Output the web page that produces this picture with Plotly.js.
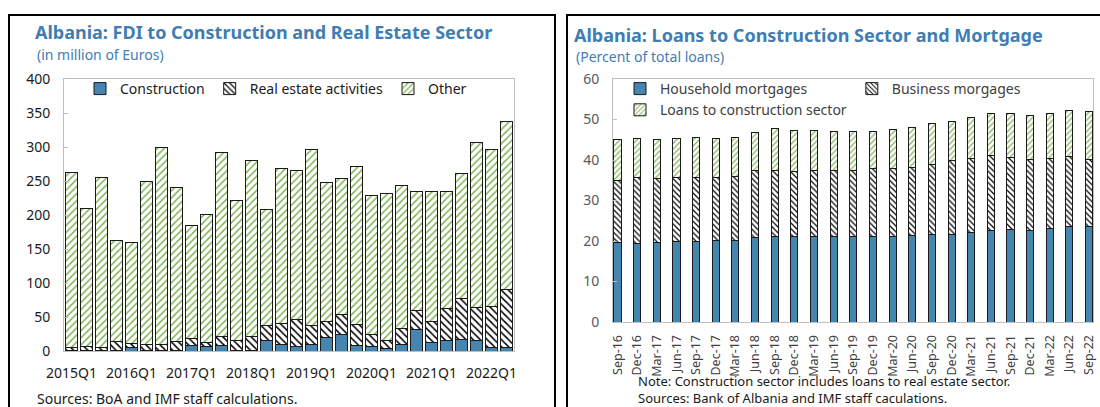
<!DOCTYPE html>
<html>
<head>
<meta charset="utf-8">
<script src="https://cdn.plot.ly/plotly-3.0.1.min.js"></script>
<style>
  html, body { margin: 0; padding: 0; width: 1100px; height: 407px; overflow: hidden; background: #fff; }
  #fdi-chart { position: absolute; left: 0; top: 0; width: 560px; height: 407px; }
  #loans-chart { position: absolute; left: 560px; top: 0; width: 540px; height: 407px; }
  .frame { position: absolute; border: 2px solid #000; pointer-events: none; }
  #fdi-frame { left: 8px; top: 14px; width: 544px; height: 420px; }
  #loans-frame { left: 566px; top: 14px; width: 560px; height: 420px; }
</style>
</head>
<body>
<div id="fdi-chart"></div>
<div id="loans-chart"></div>
<div class="frame" id="fdi-frame"></div>
<div class="frame" id="loans-frame"></div>
<script>
// FDI by quarter, million euros
const quarters = ['2015Q1','2015Q2','2015Q3','2015Q4','2016Q1','2016Q2','2016Q3','2016Q4',
  '2017Q1','2017Q2','2017Q3','2017Q4','2018Q1','2018Q2','2018Q3','2018Q4',
  '2019Q1','2019Q2','2019Q3','2019Q4','2020Q1','2020Q2','2020Q3','2020Q4',
  '2021Q1','2021Q2','2021Q3','2021Q4','2022Q1','2022Q2'];
const quarterTicks = ['2015Q1','2016Q1','2017Q1','2018Q1','2019Q1','2020Q1','2021Q1','2022Q1'];
const fdiConstruction = [1,1,1,1,5,1,1,1,8,7,8,1,1,16,10,7,10,20,25,8,6,3,10,32,13,15,17,15,5,5];
const fdiRealEstate = [4,5,4,13,6,9,8,13,11,5,13,15,21,22,31,39,27,24,29,31,19,12,23,28,30,48,60,49,60,85];
const fdiOther = [258,203,250,149,148,239,290,226,165,189,271,206,258,170,227,219,260,204,200,233,204,216,210,174,191,172,184,242,232,247];

// loans, percent of total loans
const months = ['Sep-16','Dec-16','Mar-17','Jun-17','Sep-17','Dec-17','Mar-18','Jun-18','Sep-18','Dec-18',
  'Mar-19','Jun-19','Sep-19','Dec-19','Mar-20','Jun-20','Sep-20','Dec-20','Mar-21','Jun-21',
  'Sep-21','Dec-21','Mar-22','Jun-22','Sep-22'];
const householdMortgages = [19.6,19.4,19.7,19.8,19.8,20.1,20.2,20.9,21.2,21.2,21.1,21.1,21.1,21.2,21.1,21.3,21.6,21.6,22.0,22.7,22.9,22.7,23.1,23.5,23.5];
const businessMortgages = [15.3,16.2,15.8,16.0,15.9,15.6,15.8,16.5,16.3,16.0,16.2,16.4,16.4,16.6,16.9,16.9,17.3,18.4,18.4,18.3,17.8,17.5,17.3,17.3,16.7];
const constructionLoans = [10.2,9.8,9.6,9.5,9.8,9.5,9.5,9.3,10.2,10.0,10.0,9.5,9.6,9.2,9.5,9.9,10.0,9.4,10.0,10.4,10.7,10.9,11.2,11.5,11.7];

const FONT = '"Noto Sans", "Open Sans", sans-serif';
const TITLE_BLUE = '#3f7db3';
const BAR_BLUE = '#4585b0';
const HATCH_GREEN = '#7fb356';
const outline = {color: '#1a1a1a', width: 1};

function stackTraces(x, series, names, size) {
  return [
    {type: 'bar', name: names[0], x: x, y: series[0],
      marker: {color: BAR_BLUE, line: outline}},
    {type: 'bar', name: names[1], x: x, y: series[1],
      marker: {color: '#fff', line: outline,
        pattern: {shape: '\\', fgcolor: '#000', bgcolor: '#fff', size: size, solidity: 0.3}}},
    {type: 'bar', name: names[2], x: x, y: series[2],
      marker: {color: '#fff', line: outline,
        pattern: {shape: '/', fgcolor: HATCH_GREEN, bgcolor: '#fff', size: size, solidity: 0.3}}}
  ];
}

const fdiTraces = stackTraces(quarters, [fdiConstruction, fdiRealEstate, fdiOther],
  ['Construction', 'Real estate activities', 'Other'], 5);

const fdiLayout = {
  width: 560, height: 407,
  margin: {l: 64, r: 46, t: 79, b: 56},
  barmode: 'stack', bargap: 0.15,
  paper_bgcolor: '#fff', plot_bgcolor: '#fff',
  font: {family: FONT, size: 14, color: '#1a1a1a'},
  showlegend: true,
  title: {text: '<b>Albania: FDI to Construction and Real Estate Sector</b>',
    xref: 'container', yref: 'container', x: 35 / 560, y: 1 - 33 / 407,
    xanchor: 'left', yanchor: 'middle', font: {size: 18, color: TITLE_BLUE}},
  xaxis: {type: 'category', tickvals: quarterTicks, ticktext: quarterTicks,
    showline: true, mirror: true, linecolor: '#bfbfbf', linewidth: 1,
    ticks: '', showgrid: false, zeroline: false, ticklabelstandoff: 9},
  yaxis: {range: [0, 400], dtick: 50, ticks: 'inside', ticklen: 4, tickcolor: '#bfbfbf',
    showline: true, mirror: true, linecolor: '#bfbfbf', linewidth: 1,
    showgrid: false, zeroline: false, ticklabelstandoff: 10},
  legend: {orientation: 'h', x: (80 - 64) / 450, xanchor: 'left', y: 1 + 6 / 272, yanchor: 'top',
    traceorder: 'normal', bgcolor: 'rgba(0,0,0,0)', font: {size: 14}},
  annotations: [
    {text: '(in million of Euros)', xref: 'paper', yref: 'paper',
      x: (35 - 64) / 450, y: (351 - 54) / 272, xanchor: 'left', yanchor: 'middle',
      showarrow: false, font: {size: 14, color: TITLE_BLUE}},
    {text: 'Sources: BoA and IMF staff calculations.', xref: 'paper', yref: 'paper',
      x: (35 - 64) / 450, y: (351 - 398) / 272, xanchor: 'left', yanchor: 'middle',
      showarrow: false, font: {size: 14, color: '#1a1a1a'}}
  ]
};

const loanTraces = stackTraces(months, [householdMortgages, businessMortgages, constructionLoans],
  ['Household mortgages', 'Business morgages', 'Loans to construction sector'], 4);

const loansLayout = {
  width: 540, height: 407,
  margin: {l: 53, r: 7, t: 79, b: 85},
  barmode: 'stack', bargap: 0.64,
  paper_bgcolor: '#fff', plot_bgcolor: '#fff',
  font: {family: FONT, size: 14, color: '#404040'},
  showlegend: true,
  title: {text: '<b>Albania: Loans to Construction Sector and Mortgage</b>',
    xref: 'container', yref: 'container', x: 14 / 540, y: 1 - 36 / 407,
    xanchor: 'left', yanchor: 'middle', font: {size: 18, color: TITLE_BLUE}},
  xaxis: {type: 'category', range: [-0.23, 24.2], tickangle: -90,
    showline: true, mirror: true, linecolor: '#bfbfbf', linewidth: 1,
    ticks: '', showgrid: false, zeroline: false, ticklabelstandoff: 7,
    tickfont: {size: 12.5, color: '#404040'}},
  yaxis: {range: [0, 60], dtick: 10, ticks: 'inside', ticklen: 4, tickcolor: '#bfbfbf',
    showline: true, mirror: true, linecolor: '#bfbfbf', linewidth: 1,
    showgrid: false, zeroline: false, ticklabelstandoff: 10,
    tickfont: {size: 14, color: '#595959'}},
  legend: {orientation: 'h', x: (620 - 613) / 480, xanchor: 'left', y: 1 + 6 / 243, yanchor: 'top',
    traceorder: 'normal', bgcolor: 'rgba(0,0,0,0)', font: {size: 14, color: '#404040'}},
  annotations: [
    {text: '(Percent of total loans)', xref: 'paper', yref: 'paper',
      x: (574 - 613) / 480, y: (322 - 56) / 243, xanchor: 'left', yanchor: 'middle',
      showarrow: false, font: {size: 14, color: TITLE_BLUE}},
    {text: 'Note: Construction sector includes loans to real estate sector.<br>' +
        'Sources: Bank of Albania and IMF staff caculations.',
      xref: 'paper', yref: 'paper', align: 'left',
      x: (636 - 613) / 480, y: (322 - 409) / 243, xanchor: 'left', yanchor: 'bottom',
      showarrow: false, font: {size: 13, color: '#1a1a1a'}}
  ]
};

const config = {displayModeBar: false, staticPlot: true};
Plotly.newPlot('fdi-chart', fdiTraces, fdiLayout, config);
Plotly.newPlot('loans-chart', loanTraces, loansLayout, config);
</script>
</body>
</html>
